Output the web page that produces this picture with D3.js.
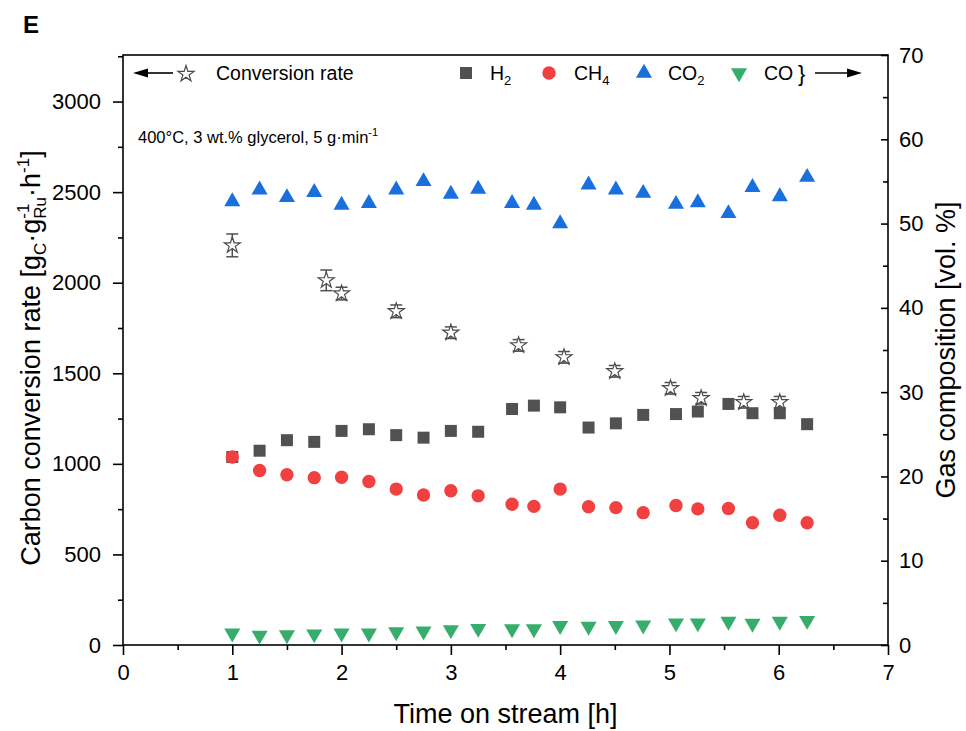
<!DOCTYPE html>
<html>
<head>
<meta charset="utf-8">
<script src="https://cdn.jsdelivr.net/npm/d3@7"></script>
<style>
body { margin: 0; background: #fff; }
text { font-family: "Liberation Sans", Arial, sans-serif; fill: #000; }
</style>
</head>
<body>
<div id="chart"></div>
<script>
// gas composition (vol. %) -> right axis
const time = [1, 1.25, 1.5, 1.75, 2, 2.25, 2.5, 2.75, 3, 3.25, 3.56, 3.76, 4, 4.26, 4.51, 4.76, 5.06, 5.26, 5.54, 5.76, 6.01, 6.26]
const h2 = [22.3, 23.05, 24.3, 24.1, 25.4, 25.6, 24.9, 24.6, 25.4, 25.3, 28.0, 28.4, 28.2, 25.8, 26.3, 27.3, 27.4, 27.7, 28.6, 27.5, 27.5, 26.2]
const ch4 = [22.3, 20.7, 20.2, 19.85, 19.9, 19.4, 18.5, 17.8, 18.3, 17.7, 16.7, 16.45, 18.5, 16.4, 16.3, 15.7, 16.55, 16.15, 16.2, 14.5, 15.4, 14.5]
const co2 = [52.6, 54.0, 53.1, 53.7, 52.2, 52.4, 54.0, 55.0, 53.5, 54.1, 52.4, 52.2, 50.0, 54.6, 54.0, 53.6, 52.3, 52.5, 51.2, 54.3, 53.2, 55.5]
const co = [1.4, 1.15, 1.2, 1.3, 1.4, 1.4, 1.55, 1.65, 1.8, 1.95, 1.9, 1.9, 2.3, 2.2, 2.3, 2.35, 2.6, 2.6, 2.8, 2.55, 2.8, 2.9]

// carbon conversion rate -> left axis
const convTime = [1.0, 1.86, 2.0, 2.5, 3.0, 3.62, 4.035, 4.5, 5.01, 5.29, 5.68, 6.01]
const convRate = [2206, 2013, 1940, 1842, 1724, 1654, 1588, 1511, 1417, 1362, 1340, 1340]
const convError = [63, 57, 35, 35, 32, 32, 32, 32, 32, 32, 32, 32]

// tick values
const xTicks = [0, 1, 2, 3, 4, 5, 6, 7]
const xMinorTicks = [0.5, 1.5, 2.5, 3.5, 4.5, 5.5, 6.5]
const leftTicks = [0, 500, 1000, 1500, 2000, 2500, 3000]
const leftMinorTicks = [250, 750, 1250, 1750, 2250, 2750, 3250]
const rightTicks = [0, 10, 20, 30, 40, 50, 60, 70]
const rightMinorTicks = [5, 15, 25, 35, 45, 55, 65]

const series = [
    { name: "H2", values: h2, color: "#515151", symbol: d3.symbolSquare, size: 144, rotate: 0 },
    { name: "CH4", values: ch4, color: "#F14040", symbol: d3.symbolCircle, size: 140, rotate: 0 },
    { name: "CO2", values: co2, color: "#1A6FDF", symbol: d3.symbolTriangle, size: 112, rotate: 0 },
    { name: "CO", values: co, color: "#37AD6B", symbol: d3.symbolTriangle, size: 112, rotate: 180 }
]

const svgWidth = 966
const svgHeight = 731
const margin = { top: 55, right: 78, bottom: 86, left: 123 }
const width = svgWidth - margin.left - margin.right // 765
const height = svgHeight - margin.top - margin.bottom // 590

const svg = d3.select("#chart")
    .append("svg")
    .attr("width", svgWidth)
    .attr("height", svgHeight)

const chart = svg.append("g")
    .attr("transform", "translate(" + margin.left + "," + margin.top + ")")

const x = d3.scaleLinear().domain([0, 7]).range([0, width])
const yLeft = d3.scaleLinear().domain([0, 3257]).range([height, 0])
const yRight = d3.scaleLinear().domain([0, 70]).range([height, 0])
const plain = d3.format("d")

// AXES
function styleAxis(g) {
    g.select(".domain").remove()
    g.selectAll("line").attr("stroke", "#000").attr("stroke-width", 1.6)
    g.selectAll("text").attr("font-size", 22).attr("fill", "#000")
}

chart.append("g")
    .attr("transform", "translate(0," + height + ")")
    .call(d3.axisBottom(x).tickValues(xTicks).tickFormat(plain).tickSize(10).tickPadding(9).tickSizeOuter(0))
    .call(styleAxis)
chart.append("g")
    .attr("transform", "translate(0," + height + ")")
    .call(d3.axisBottom(x).tickValues(xMinorTicks).tickSize(5).tickFormat("").tickSizeOuter(0))
    .call(styleAxis)

chart.append("g")
    .call(d3.axisLeft(yLeft).tickValues(leftTicks).tickFormat(plain).tickSize(10).tickPadding(12).tickSizeOuter(0))
    .call(styleAxis)
chart.append("g")
    .call(d3.axisLeft(yLeft).tickValues(leftMinorTicks).tickSize(5).tickFormat("").tickSizeOuter(0))
    .call(styleAxis)

chart.append("g")
    .attr("transform", "translate(" + width + ",0)")
    .call(d3.axisRight(yRight).tickValues(rightTicks).tickFormat(plain).tickSize(-7).tickPadding(11).tickSizeOuter(0))
    .call(styleAxis)
chart.append("g")
    .attr("transform", "translate(" + width + ",0)")
    .call(d3.axisRight(yRight).tickValues(rightMinorTicks).tickSize(-5).tickFormat("").tickSizeOuter(0))
    .call(styleAxis)

// frame
chart.append("rect")
    .attr("width", width)
    .attr("height", height)
    .attr("fill", "none")
    .attr("stroke", "#000")
    .attr("stroke-width", 1.6)

// CONVERSION RATE (stars with error bars)
const convData = convTime.map((t, i) => ({ t: t, rate: convRate[i], err: convError[i] }))
const errBars = chart.append("g").attr("stroke", "#505050").attr("stroke-width", 1.5)
errBars.selectAll(".err").data(convData).enter()
    .append("line")
    .attr("x1", (d) => x(d.t))
    .attr("x2", (d) => x(d.t))
    .attr("y1", (d) => yLeft(d.rate - d.err))
    .attr("y2", (d) => yLeft(d.rate + d.err))
errBars.selectAll(".capTop").data(convData).enter()
    .append("line")
    .attr("x1", (d) => x(d.t) - 6)
    .attr("x2", (d) => x(d.t) + 6)
    .attr("y1", (d) => yLeft(d.rate + d.err))
    .attr("y2", (d) => yLeft(d.rate + d.err))
errBars.selectAll(".capBottom").data(convData).enter()
    .append("line")
    .attr("x1", (d) => x(d.t) - 6)
    .attr("x2", (d) => x(d.t) + 6)
    .attr("y1", (d) => yLeft(d.rate - d.err))
    .attr("y2", (d) => yLeft(d.rate - d.err))

const star = d3.symbol().type(d3.symbolStar).size(80)
chart.append("g").selectAll("path").data(convData).enter()
    .append("path")
    .attr("d", star)
    .attr("transform", (d) => "translate(" + x(d.t) + "," + yLeft(d.rate) + ")")
    .attr("fill", "#fff")
    .attr("stroke", "#4a4a4a")
    .attr("stroke-width", 1.2)

// GAS COMPOSITION
series.forEach((s) => {
    const shape = d3.symbol().type(s.symbol).size(s.size)
    chart.append("g").selectAll("path").data(time).enter()
        .append("path")
        .attr("d", shape)
        .attr("transform", (t, i) => "translate(" + x(t) + "," + yRight(s.values[i]) + ") rotate(" + s.rotate + ")")
        .attr("fill", s.color)
})

// LEGEND
const legend = svg.append("g")
const legendY = 73

function arrow(g, x1, x2, y) { // line with filled head at x1
    const dir = x2 > x1 ? 1 : -1
    g.append("line")
        .attr("x1", x1 + dir * 10).attr("x2", x2)
        .attr("y1", y).attr("y2", y)
        .attr("stroke", "#000").attr("stroke-width", 1.6)
    g.append("path")
        .attr("d", "M" + x1 + "," + y + " L" + (x1 + dir * 15) + "," + (y - 4.5) + " L" + (x1 + dir * 15) + "," + (y + 4.5) + " Z")
        .attr("fill", "#000")
}

arrow(legend, 133, 173, legendY)
legend.append("path")
    .attr("d", d3.symbol().type(d3.symbolStar).size(80))
    .attr("transform", "translate(186," + (legendY + 1) + ")")
    .attr("fill", "#fff")
    .attr("stroke", "#4a4a4a")
    .attr("stroke-width", 1.2)
legend.append("text")
    .attr("x", 216).attr("y", legendY + 7)
    .attr("font-size", 19.5)
    .text("Conversion rate")

const legendItems = [
    { s: series[0], mx: 466, tx: 490, label: "H", sub: "2" },
    { s: series[1], mx: 549, tx: 574, label: "CH", sub: "4" },
    { s: series[2], mx: 644, tx: 668, label: "CO", sub: "2" },
    { s: series[3], mx: 739, tx: 764, label: "CO", sub: "" }
]
legendItems.forEach((item) => {
    legend.append("path")
        .attr("d", d3.symbol().type(item.s.symbol).size(item.s.size))
        .attr("transform", "translate(" + item.mx + "," + legendY + ") rotate(" + item.s.rotate + ")")
        .attr("fill", item.s.color)
    const t = legend.append("text")
        .attr("x", item.tx).attr("y", legendY + 7)
        .attr("font-size", 19.5)
        .text(item.label)
    if (item.sub) {
        t.append("tspan").attr("dy", 5).attr("font-size", 13).text(item.sub)
    }
})
legend.append("text")
    .attr("x", 798).attr("y", legendY + 8)
    .attr("font-size", 22)
    .text("}")
arrow(legend, 862, 815, legendY)

// condition annotation
const note = svg.append("text")
    .attr("x", 138).attr("y", 143)
    .attr("font-size", 16.5)
    .text("400°C, 3 wt.% glycerol, 5 g·min")
note.append("tspan").attr("dy", -7).attr("font-size", 11).text("-1")

// panel letter
svg.append("text")
    .attr("x", 23).attr("y", 33)
    .attr("font-size", 24)
    .attr("font-weight", "bold")
    .text("E")

// AXIS LABELS
svg.append("text")
    .attr("x", margin.left + width / 2).attr("y", 723)
    .attr("text-anchor", "middle")
    .attr("font-size", 27)
    .text("Time on stream [h]")

const yLabel = svg.append("text")
    .attr("transform", "translate(40," + (margin.top + height / 2 + 8) + ") rotate(-90)")
    .attr("text-anchor", "middle")
    .attr("font-size", 27)
yLabel.append("tspan").text("Carbon conversion rate [g")
yLabel.append("tspan").attr("dy", 6).attr("font-size", 17).text("C")
yLabel.append("tspan").attr("dy", -6).text("·g")
yLabel.append("tspan").attr("dy", -11).attr("font-size", 17).text("-1")
yLabel.append("tspan").attr("dx", -15).attr("dy", 17).attr("font-size", 17).text("Ru")
yLabel.append("tspan").attr("dy", -6).text("·h")
yLabel.append("tspan").attr("dy", -11).attr("font-size", 17).text("-1")
yLabel.append("tspan").attr("dy", 11).text("]")

svg.append("text")
    .attr("transform", "translate(955," + (margin.top + height / 2) + ") rotate(-90)")
    .attr("text-anchor", "middle")
    .attr("font-size", 27)
    .text("Gas composition [vol. %]")
</script>
</body>
</html>
